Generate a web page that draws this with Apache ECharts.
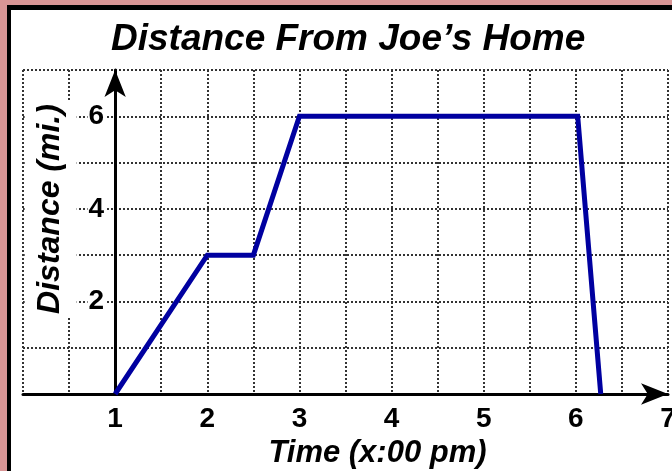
<!DOCTYPE html>
<html>
<head>
<meta charset="utf-8">
<script src="https://cdn.jsdelivr.net/npm/echarts@6/dist/echarts.min.js"></script>
<style>
  html, body { margin: 0; padding: 0; }
  body { width: 672px; height: 471px; background: #d99595; position: relative; overflow: hidden; }
  /* pink outer frame + black inner edge, only top/left show in the crop */
  .frame { position: absolute; left: 7px; top: 5px; right: 0; bottom: 0; background: #fff; border-left: 4px solid #000; border-top: 5px solid #000; }
  #chart { position: absolute; left: 0; top: 0; width: 672px; height: 471px; }
</style>
</head>
<body>
<div class="frame"></div>
<div id="chart"></div>
<script>
// data
const timeHours = [1, 2, 2.5, 3, 6.02, 6.27];
const distanceMiles = [0, 3, 3, 6, 6, 0];
const xTickLabels = [1, 2, 3, 4, 5, 6, 7];
const yTickLabels = [2, 4, 6];

const font = "'Liberation Sans', Arial, sans-serif";
const gridLeft = 23, gridRight = 4;
const xMin = 0, xMax = 7;
// y axis sits at x = 1, shift it in from the left edge
const yAxisOffset = -((672 - gridLeft - gridRight) / (xMax - xMin)) * (1 - xMin);

const gridLine = { color: '#333', width: 2, type: [2, 2] };
const arrowLine = {
  show: true,
  symbol: ['none', 'arrow'],
  symbolSize: [16, 27],
  lineStyle: { color: '#000', width: 3 }
};
const tickFont = { color: '#000', fontFamily: font, fontSize: 28, fontWeight: 'bold' };

let myChart = echarts.init(document.getElementById('chart'));

let option = {
  animation: false,
  title: {
    text: 'Distance From Joe’s Home',
    left: 111,
    top: 21,
    padding: 0,
    textStyle: { fontFamily: font, fontSize: 37, fontWeight: 'bold', fontStyle: 'italic', color: '#000' }
  },
  grid: { left: gridLeft, right: gridRight, top: 70, bottom: 77, containLabel: false, outerBoundsMode: 'none' },
  xAxis: {
    type: 'value',
    min: xMin,
    max: xMax,
    interval: 0.5,
    axisLine: arrowLine,
    axisTick: { show: false },
    axisLabel: {
      ...tickFont,
      formatter: v => xTickLabels.includes(v) ? String(v) : '',
      margin: 11
    },
    splitLine: { show: true, lineStyle: gridLine },
    name: 'Time (x:00 pm)',
    nameLocation: 'middle',
    nameGap: 36,
    nameTextStyle: {
      fontFamily: font, fontSize: 31, fontWeight: 'bold', fontStyle: 'italic', color: '#000',
      padding: [0, 0, 0, 64]
    }
  },
  yAxis: [{
    // dotted grid + arrow line
    type: 'value',
    min: 0,
    max: 7,
    interval: 1,
    offset: yAxisOffset,
    axisLine: arrowLine,
    axisTick: { show: false },
    axisLabel: { show: false },
    splitLine: { show: true, lineStyle: gridLine }
  }, {
    // labels and title, drawn above the dotted grid
    type: 'value',
    position: 'left',
    min: 0,
    max: 7,
    interval: 1,
    offset: yAxisOffset,
    z: 3,
    axisLine: { show: false },
    axisTick: { show: false },
    splitLine: { show: false },
    axisLabel: {
      ...tickFont,
      formatter: v => yTickLabels.includes(v) ? String(v) : '',
      margin: 10,
      backgroundColor: '#fff',
      padding: [0, 1]
    },
    // white box only behind the words, the left padding just moves it up
    name: '{t|Distance (mi.)}',
    nameLocation: 'middle',
    nameGap: 36,
    nameTextStyle: {
      padding: [0, 0, 0, 46],
      rich: {
        t: {
          fontFamily: font, fontSize: 32, fontWeight: 'bold', fontStyle: 'italic', color: '#000',
          backgroundColor: '#fff', padding: [10, 3, 10, 3]
        }
      }
    }
  }],
  series: [{
    type: 'line',
    data: timeHours.map((t, i) => [t, distanceMiles[i]]),
    symbol: 'none',
    clip: false,
    lineStyle: { color: '#0000a0', width: 5, join: 'miter' },
    z: 5
  }]
};

myChart.setOption(option);
</script>
</body>
</html>
